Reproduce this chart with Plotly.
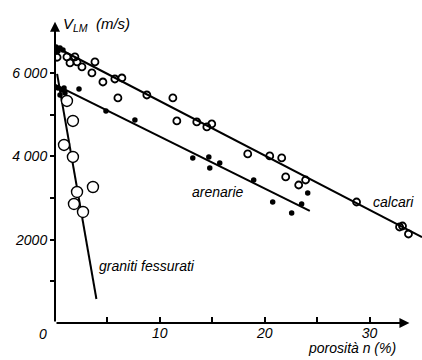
import plotly.graph_objects as go

# calcari (open circles)
calcari_x = [0.2, 1.14, 1.43, 1.90, 2.10, 2.57, 3.52, 3.81, 4.57, 5.71, 6.38, 6.0, 8.76, 11.24,
             11.62, 13.52, 14.48, 14.95, 18.38, 20.48, 21.62, 22.0, 23.24, 23.9, 28.76,
             32.86, 33.14, 33.71]
calcari_y = [6380, 6387, 6243, 6387, 6267, 6147, 6003, 6267, 5786, 5858, 5882, 5403, 5474, 5403,
             4850, 4826, 4706, 4778, 4058, 4010, 3962, 3506, 3313, 3433, 2905,
             2305, 2329, 2137]
calcari_line_x = [0.1, 35.0]
calcari_line_y = [6620, 2060]

# arenarie (black dots)
arenarie_x = [0.1, 0.48, 0.76, 0.29, 0.29, 0.67, 0.95, 0.48, 0.86, 2.29, 4.86, 7.62, 13.14,
              14.67, 14.76, 15.71, 18.95, 20.76, 22.57, 23.52, 24.1]
arenarie_y = [6627, 6603, 6555, 6531, 5642, 5594, 5522, 5474, 5642, 5618, 5090, 4874, 3962,
              3986, 3722, 3842, 3433, 2905, 2641, 2857, 3121]
arenarie_line_x = [0.0, 24.3]
arenarie_line_y = [5720, 2690]

# graniti fessurati (large open circles)
graniti_x = [1.14, 1.71, 0.86, 1.71, 3.62, 2.10, 1.81, 2.67]
graniti_y = [5330, 4850, 4274, 3986, 3265, 3145, 2857, 2665]
graniti_line_x = [0.2, 3.95]
graniti_line_y = [5980, 576]

x_ticks = [5, 10, 15, 20, 25, 30]
x_ticktext = ["", "10", "", "20", "", "30"]
y_ticks = [1000, 2000, 3000, 4000, 5000, 6000]
y_ticktext = ["", "2000", "", "4 000", "", "6 000"]

FONT = "Liberation Sans"
fig = go.Figure()

for lx, ly in [(calcari_line_x, calcari_line_y), (arenarie_line_x, arenarie_line_y),
               (graniti_line_x, graniti_line_y)]:
    fig.add_trace(go.Scatter(x=lx, y=ly, mode="lines", line=dict(color="black", width=2),
                             showlegend=False, hoverinfo="skip"))

fig.add_trace(go.Scatter(x=calcari_x, y=calcari_y, mode="markers", showlegend=False,
                         marker=dict(symbol="circle-open", size=7, color="black",
                                     line=dict(width=1.8, color="black"))))
fig.add_trace(go.Scatter(x=arenarie_x, y=arenarie_y, mode="markers", showlegend=False,
                         marker=dict(symbol="circle", size=5.5, color="black")))
fig.add_trace(go.Scatter(x=graniti_x, y=graniti_y, mode="markers", showlegend=False,
                         marker=dict(symbol="circle", size=11, color="white",
                                     line=dict(width=1.4, color="black"))))

# axes with arrows
fig.add_annotation(x=33.8, y=0, ax=0, ay=0, xref="x", yref="y", axref="x", ayref="y",
                   text="", showarrow=True, arrowhead=2, arrowsize=1, arrowwidth=2,
                   arrowcolor="black")
fig.add_annotation(x=0, y=7230, ax=0, ay=0, xref="x", yref="y", axref="x", ayref="y",
                   text="", showarrow=True, arrowhead=2, arrowsize=1, arrowwidth=2,
                   arrowcolor="black")

def ann(text, px, py, xanchor="left", size=13):
    fig.add_annotation(x=(px - 55) / 367, y=(323 - py) / 302, xref="paper", yref="paper",
                       text=text, showarrow=False, xanchor=xanchor, yanchor="middle",
                       font=dict(family=FONT, size=size, color="black", style="italic"))

ann("V<sub>LM</sub>  (m/s)", 61, 24, size=15)
ann("porosità n (%)", 398, 348, xanchor="right", size=14)
ann("calcari", 371, 202, size=14)
ann("arenarie", 190, 192, size=14)
ann("graniti fessurati", 97, 266, size=14)
ann("0", 43, 334, xanchor="center", size=14)

fig.update_layout(
    width=422, height=360,
    margin=dict(l=55, r=0, t=21, b=37),
    paper_bgcolor="white", plot_bgcolor="white",
    font=dict(family=FONT, size=14, color="black"),
    xaxis=dict(range=[0, 35], showgrid=False, zeroline=False, showline=False,
               tickvals=x_ticks, ticktext=x_ticktext, ticks="inside", ticklen=6,
               tickwidth=1.5, tickcolor="black",
               tickfont=dict(family=FONT, size=14, style="italic")),
    yaxis=dict(range=[0, 7250], showgrid=False, zeroline=False, showline=False,
               tickvals=y_ticks, ticktext=y_ticktext, ticks="outside", ticklen=4,
               tickwidth=1.5, tickcolor="black",
               tickfont=dict(family=FONT, size=14, style="italic")),
)

fig.write_html("out.html")
